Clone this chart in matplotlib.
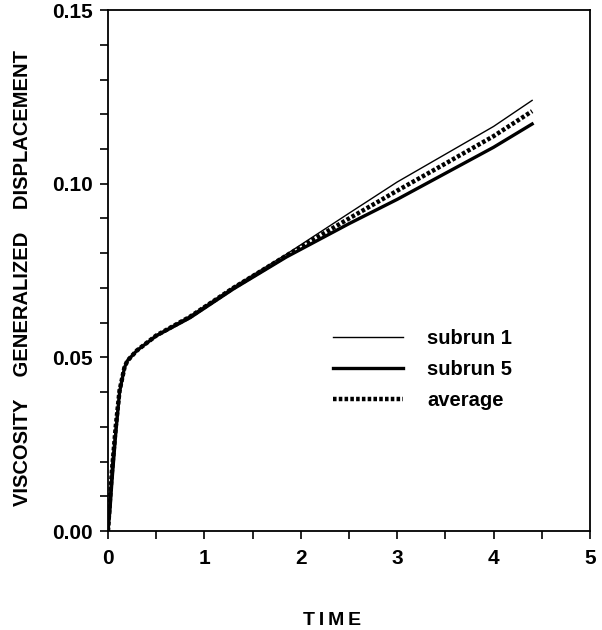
import matplotlib
matplotlib.use('Agg')
import matplotlib.pyplot as plt
from matplotlib.ticker import MultipleLocator

plt.rcParams['font.family'] = ['Liberation Sans', 'DejaVu Sans']

# 读图得到的数据
time = [0, 0.02, 0.04, 0.08, 0.12, 0.17, 0.2, 0.3, 0.5, 0.85, 1.3, 1.85, 2.5, 3.0, 3.5, 4.0, 4.4]
subrun1 = [0, 0.012, 0.02, 0.031, 0.041, 0.047, 0.049, 0.052, 0.0565, 0.0620, 0.0703, 0.0797, 0.0915, 0.1005, 0.1085, 0.1165, 0.124]
subrun5 = [0, 0.006, 0.014, 0.028, 0.040, 0.047, 0.049, 0.052, 0.0562, 0.0614, 0.0697, 0.0789, 0.0885, 0.0955, 0.1030, 0.1105, 0.1172]
average = [0, 0.009, 0.017, 0.030, 0.0405, 0.047, 0.049, 0.052, 0.0563, 0.0617, 0.0700, 0.0793, 0.0900, 0.0980, 0.1058, 0.1137, 0.1209]

xticks = [0, 1, 2, 3, 4, 5]
yticks = [0.00, 0.05, 0.10, 0.15]

fig = plt.figure(figsize=(6.02, 6.30), dpi=100)
ax = fig.add_axes([0.1794, 0.157, 0.8006, 0.827])

ax.plot(time, subrun1, color='black', lw=1.0, label='subrun 1')
ax.plot(time, subrun5, color='black', lw=2.4, label='subrun 5')
ax.plot(time, average, color='black', lw=3.2, dashes=(0.8, 0.5), label='average')

ax.set_xlim(0, 5)
ax.set_ylim(0, 0.15)
ax.set_xticks(xticks)
ax.set_yticks(yticks)
ax.set_yticklabels(['%.2f' % v for v in yticks])
ax.xaxis.set_minor_locator(MultipleLocator(0.5))
ax.yaxis.set_minor_locator(MultipleLocator(0.01))
ax.tick_params(which='both', direction='out', length=6, width=1.2, top=False, right=False)
ax.tick_params(axis='x', pad=7)
ax.tick_params(axis='y', pad=5)
ax.tick_params(labelsize=15)
for lab in ax.get_xticklabels() + ax.get_yticklabels():
    lab.set_fontweight('bold')
for s in ax.spines.values():
    s.set_linewidth(1.3)

ax.set_xlabel('T\u2009I\u2009M\u2009E', fontsize=14, fontweight='bold')
ax.xaxis.set_label_coords(0.465, -0.155)
ax.set_ylabel('VISCOSITY    GENERALIZED    DISPLACEMENT',
              fontsize=14.5, fontweight='bold')
ax.yaxis.set_label_coords(-0.158, 0.485)

leg = ax.legend(loc='center left', bbox_to_anchor=(0.43, 0.31), frameon=False,
                handlelength=3.45, handletextpad=1.2, labelspacing=0.6,
                prop={'weight': 'bold', 'size': 14.5})

fig.savefig('out.png', dpi=100)
